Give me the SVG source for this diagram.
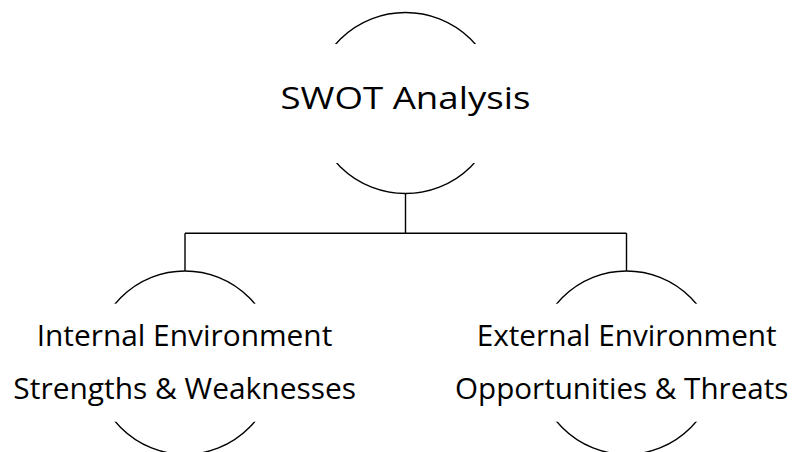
<svg xmlns="http://www.w3.org/2000/svg" width="798" height="452" viewBox="0 0 798 452">
<style>
.ring{fill:none;stroke:#000;stroke-width:1.4}
.mask{fill:#fff;stroke:none}
.lbl{font-family:"Open Sans","Liberation Sans",sans-serif;fill:#000;text-anchor:middle}
.conn{fill:none;stroke:#000;stroke-width:1.4}
</style>
<rect width="798" height="452" fill="#fff"/>
<g id="connectors">
<path class="conn" d="M405.5 193.5 V233.3 M185 233.3 H626.5 M185 233.3 V271 M626.5 233.3 V271"/>
</g>
<g id="node-swot">
<ellipse class="ring" cx="405.5" cy="103" rx="92" ry="90.5"/>
<rect class="mask" x="300" y="44" width="212" height="119"/>
<text class="lbl" x="405.5" y="109.3" font-size="31.7" textLength="250" lengthAdjust="spacingAndGlyphs">SWOT Analysis</text>
</g>
<g id="node-internal">
<ellipse class="ring" cx="185" cy="362.7" rx="91" ry="91.7"/>
<rect class="mask" x="80" y="303.7" width="210" height="118"/>
<text class="lbl" x="184.5" y="345.7" font-size="29" textLength="295.6" lengthAdjust="spacingAndGlyphs">Internal Environment</text>
<text class="lbl" x="184.7" y="399" font-size="29" textLength="342.7" lengthAdjust="spacingAndGlyphs">Strengths &amp; Weaknesses</text>
</g>
<g id="node-external">
<ellipse class="ring" cx="626.5" cy="362.7" rx="91" ry="91.7"/>
<rect class="mask" x="520" y="303.7" width="212" height="118"/>
<text class="lbl" x="626.7" y="345.7" font-size="29" textLength="300" lengthAdjust="spacingAndGlyphs">External Environment</text>
<text class="lbl" x="621.7" y="399" font-size="29" textLength="333.3" lengthAdjust="spacingAndGlyphs">Opportunities &amp; Threats</text>
</g>
</svg>
